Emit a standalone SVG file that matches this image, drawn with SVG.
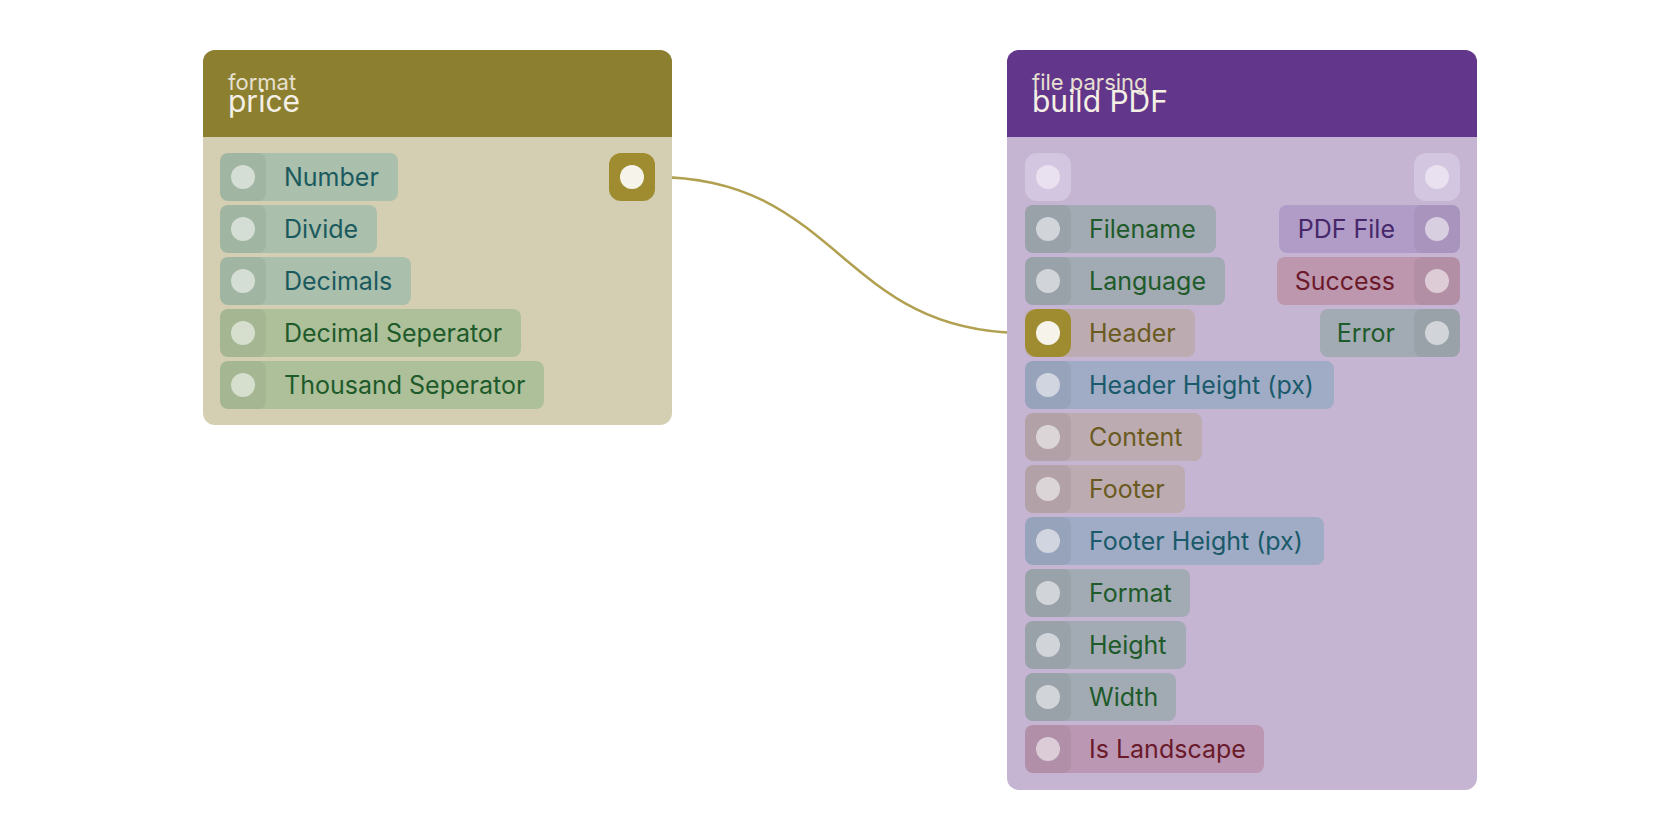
<svg xmlns="http://www.w3.org/2000/svg" width="1680" height="840" viewBox="0 0 1680 840">
<style>
text{font-family:Inter,"Noto Sans",sans-serif}
.lbl{font-size:25px}
.cat{font-size:22px;fill:#e6e0d0}
.ttl{font-size:30px;fill:#f4f0e6}
.pc{fill:#ffffff;opacity:0.55}
.sq{fill:#000;opacity:0.05}
</style>
<rect width="1680" height="840" fill="#fff"/>
<g id="connectors">
<path d="M655,177 C840,177 840,333 1025,333" fill="none" stroke="#b0a050" stroke-width="2.5"/>
</g>
<g id="node-format-price">
<rect x="203" y="50" width="469" height="375" rx="12" fill="#d4cfb2"/>
<path d="M215,50 H660 A12,12 0 0 1 672,62 V137 H203 V62 A12,12 0 0 1 215,50Z" fill="#8c7f30"/>
<text class="cat" x="228" y="90">format</text>
<text class="ttl" x="228" y="112">price</text>
<g><rect x="220" y="153" width="178" height="48" rx="8" fill="#aabfac"/><rect class="sq" x="220" y="153" width="46" height="48" rx="8"/><circle class="pc" cx="243" cy="177" r="12"/><text class="lbl" x="284" y="186" fill="#1a5a5e">Number</text></g>
<g><rect x="220" y="205" width="157" height="48" rx="8" fill="#aabfac"/><rect class="sq" x="220" y="205" width="46" height="48" rx="8"/><circle class="pc" cx="243" cy="229" r="12"/><text class="lbl" x="284" y="238" fill="#1a5a5e">Divide</text></g>
<g><rect x="220" y="257" width="191" height="48" rx="8" fill="#aabfac"/><rect class="sq" x="220" y="257" width="46" height="48" rx="8"/><circle class="pc" cx="243" cy="281" r="12"/><text class="lbl" x="284" y="290" fill="#1a5a5e">Decimals</text></g>
<g><rect x="220" y="309" width="301" height="48" rx="8" fill="#adc09a"/><rect class="sq" x="220" y="309" width="46" height="48" rx="8"/><circle class="pc" cx="243" cy="333" r="12"/><text class="lbl" x="284" y="342" fill="#1e5a2a">Decimal Seperator</text></g>
<g><rect x="220" y="361" width="324" height="48" rx="8" fill="#adc09a"/><rect class="sq" x="220" y="361" width="46" height="48" rx="8"/><circle class="pc" cx="243" cy="385" r="12"/><text class="lbl" x="284" y="394" fill="#1e5a2a">Thousand Seperator</text></g>
<rect x="609" y="153" width="46" height="48" rx="12" fill="#a08c30"/><circle cx="632" cy="177" r="12" fill="#f6f3ea"/>
</g>
<g id="node-build-pdf">
<rect x="1007" y="50" width="470" height="740" rx="12" fill="#c5b5d3"/>
<path d="M1019,50 H1465 A12,12 0 0 1 1477,62 V137 H1007 V62 A12,12 0 0 1 1019,50Z" fill="#62368a"/>
<text class="cat" x="1032" y="90">file parsing</text>
<text class="ttl" x="1032" y="112">build PDF</text>
<rect x="1025" y="153" width="46" height="48" rx="12" fill="#d3c6e0"/><circle cx="1048" cy="177" r="12" fill="#e9e0f0"/>
<rect x="1414" y="153" width="46" height="48" rx="12" fill="#d3c6e0"/><circle cx="1437" cy="177" r="12" fill="#e9e0f0"/>
<g><rect x="1025" y="205" width="191" height="48" rx="8" fill="#a2aab3"/><rect class="sq" x="1025" y="205" width="46" height="48" rx="8"/><circle class="pc" cx="1048" cy="229" r="12"/><text class="lbl" x="1089" y="238" fill="#1e5a2a">Filename</text></g>
<g><rect x="1025" y="257" width="200" height="48" rx="8" fill="#a2aab3"/><rect class="sq" x="1025" y="257" width="46" height="48" rx="8"/><circle class="pc" cx="1048" cy="281" r="12"/><text class="lbl" x="1089" y="290" fill="#1e5a2a">Language</text></g>
<g><rect x="1025" y="309" width="170" height="48" rx="8" fill="#bcabb0"/><rect x="1025" y="309" width="46" height="48" rx="12" fill="#a08c30"/><circle cx="1048" cy="333" r="12" fill="#f6f3ea"/><text class="lbl" x="1089" y="342" fill="#6a5a20">Header</text></g>
<g><rect x="1025" y="361" width="309" height="48" rx="8" fill="#a0acc6"/><rect class="sq" x="1025" y="361" width="46" height="48" rx="8"/><circle class="pc" cx="1048" cy="385" r="12"/><text class="lbl" x="1089" y="394" fill="#1a5a6a">Header Height (px)</text></g>
<g><rect x="1025" y="413" width="177" height="48" rx="8" fill="#bcabb0"/><rect class="sq" x="1025" y="413" width="46" height="48" rx="8"/><circle class="pc" cx="1048" cy="437" r="12"/><text class="lbl" x="1089" y="446" fill="#6a5a20">Content</text></g>
<g><rect x="1025" y="465" width="160" height="48" rx="8" fill="#bcabb0"/><rect class="sq" x="1025" y="465" width="46" height="48" rx="8"/><circle class="pc" cx="1048" cy="489" r="12"/><text class="lbl" x="1089" y="498" fill="#6a5a20">Footer</text></g>
<g><rect x="1025" y="517" width="299" height="48" rx="8" fill="#a0acc6"/><rect class="sq" x="1025" y="517" width="46" height="48" rx="8"/><circle class="pc" cx="1048" cy="541" r="12"/><text class="lbl" x="1089" y="550" fill="#1a5a6a">Footer Height (px)</text></g>
<g><rect x="1025" y="569" width="165" height="48" rx="8" fill="#a2aab3"/><rect class="sq" x="1025" y="569" width="46" height="48" rx="8"/><circle class="pc" cx="1048" cy="593" r="12"/><text class="lbl" x="1089" y="602" fill="#1e5a2a">Format</text></g>
<g><rect x="1025" y="621" width="161" height="48" rx="8" fill="#a2aab3"/><rect class="sq" x="1025" y="621" width="46" height="48" rx="8"/><circle class="pc" cx="1048" cy="645" r="12"/><text class="lbl" x="1089" y="654" fill="#1e5a2a">Height</text></g>
<g><rect x="1025" y="673" width="151" height="48" rx="8" fill="#a2aab3"/><rect class="sq" x="1025" y="673" width="46" height="48" rx="8"/><circle class="pc" cx="1048" cy="697" r="12"/><text class="lbl" x="1089" y="706" fill="#1e5a2a">Width</text></g>
<g><rect x="1025" y="725" width="239" height="48" rx="8" fill="#bb97b3"/><rect class="sq" x="1025" y="725" width="46" height="48" rx="8"/><circle class="pc" cx="1048" cy="749" r="12"/><text class="lbl" x="1089" y="758" fill="#6a1a2a">Is Landscape</text></g>
<g><rect x="1279" y="205" width="181" height="48" rx="8" fill="#b19cc8"/><rect class="sq" x="1414" y="205" width="46" height="48" rx="8"/><circle class="pc" cx="1437" cy="229" r="12"/><text class="lbl" x="1395" y="238" text-anchor="end" fill="#46286a">PDF File</text></g>
<g><rect x="1277" y="257" width="183" height="48" rx="8" fill="#bd97ae"/><rect class="sq" x="1414" y="257" width="46" height="48" rx="8"/><circle class="pc" cx="1437" cy="281" r="12"/><text class="lbl" x="1395" y="290" text-anchor="end" fill="#6a1a2a">Success</text></g>
<g><rect x="1320" y="309" width="140" height="48" rx="8" fill="#a2aab3"/><rect class="sq" x="1414" y="309" width="46" height="48" rx="8"/><circle class="pc" cx="1437" cy="333" r="12"/><text class="lbl" x="1395" y="342" text-anchor="end" fill="#1e5a2a">Error</text></g>
</g>
</svg>
